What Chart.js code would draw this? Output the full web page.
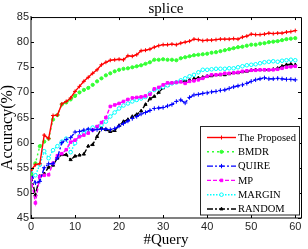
<!DOCTYPE html>
<html>
<head>
<meta charset="utf-8">
<script src="https://cdn.jsdelivr.net/npm/chart.js@4.4.0/dist/chart.umd.min.js"></script>
<style>
  html, body { margin: 0; padding: 0; background: #fff; }
  #wrap { width: 308px; height: 249px; }
</style>
</head>
<body>
<div id="wrap"><canvas id="chart" width="308" height="249"></canvas></div>
<script>
// x positions: number of queries
const queries = [0, 1, 2, 3, 4, 5, 6, 7, 8, 9, 10, 11, 12, 13, 14, 15, 16, 17, 18, 19, 20,
    21, 22, 23, 24, 25, 26, 27, 28, 29, 30, 31, 32, 33, 34, 35, 36, 37, 38, 39, 40,
    41, 42, 43, 44, 45, 46, 47, 48, 49, 50, 51, 52, 53, 54, 55, 56, 57, 58, 59, 60];

// accuracy (%) per method
const proposed = [54.5, 55.6, 55.8, 61.5, 60.8, 65.4, 65.5, 67.7, 68.2, 68.9, 70.2,
    71.2, 72.2, 73.0, 73.8, 74.5, 75.5, 76.0, 76.4, 76.5, 76.6,
    76.5, 77.3, 77.2, 77.5, 78.3, 78.4, 78.6, 79.0, 79.3, 79.5,
    79.5, 79.6, 79.5, 79.8, 80.0, 80.2, 80.6, 80.5, 80.3, 80.4,
    80.4, 80.5, 80.6, 80.6, 80.6, 80.7, 80.6, 81.0, 81.2, 81.6,
    81.5, 81.5, 81.6, 81.8, 81.7, 81.8, 81.8, 82.0, 82.1, 82.3];
const bmdr = [53.7, 55.9, 59.3, 60.2, 60.8, 64.6, 65.5, 67.6, 68.0, 68.6, 69.3,
    70.0, 70.5, 70.9, 71.5, 72.2, 72.8, 73.4, 73.8, 74.2, 74.5,
    74.7, 74.8, 75.0, 75.2, 75.4, 75.7, 76.0, 76.5, 76.5, 76.6,
    76.5, 76.5, 76.4, 76.8, 77.0, 77.2, 77.4, 77.5, 77.6, 77.7,
    77.9, 78.0, 78.2, 78.4, 78.6, 78.8, 79.0, 79.1, 79.3, 79.5,
    79.5, 79.7, 79.8, 80.0, 80.1, 80.2, 80.4, 80.6, 80.7, 80.8];
const quire = [53.9, 52.0, 52.3, 55.0, 55.8, 55.8, 57.0, 60.0, 60.6, 61.0, 62.1,
    62.2, 62.5, 62.7, 62.5, 62.6, 62.7, 62.7, 62.6, 62.8, 63.3,
    63.8, 64.3, 64.8, 65.2, 65.7, 66.0, 66.4, 66.8, 66.9, 67.0,
    67.3, 67.6, 68.2, 68.5, 67.9, 69.0, 69.5, 69.6, 69.8, 69.9,
    70.1, 70.2, 70.4, 70.5, 70.8, 71.1, 71.3, 71.5, 71.8, 72.2,
    72.5, 72.7, 72.9, 72.7, 72.7, 72.8, 72.7, 72.6, 72.6, 72.5];
const mp = [53.0, 48.0, 53.3, 53.5, 53.6, 55.9, 57.4, 57.8, 58.6, 60.1, 60.5,
    61.2, 61.5, 61.9, 62.5, 63.2, 64.0, 65.0, 67.2, 67.5, 67.8,
    68.2, 68.6, 68.9, 69.0, 69.1, 69.3, 69.6, 70.7, 71.0, 71.5,
    71.9, 71.9, 72.0, 72.1, 71.8, 72.2, 72.3, 72.5, 72.8, 73.2,
    73.5, 73.5, 73.6, 73.8, 73.8, 73.9, 74.0, 74.2, 74.3, 74.4,
    74.4, 74.5, 74.5, 74.5, 74.5, 74.6, 74.8, 75.0, 75.1, 75.2];
const margin = [54.0, 53.5, 55.6, 58.3, 56.9, 58.5, 59.3, 60.2, 60.8, 58.1, 59.9,
    61.3, 61.9, 62.5, 63.0, 63.1, 63.5, 64.2, 65.2, 66.0, 66.8,
    67.4, 67.8, 68.2, 68.5, 68.8, 69.1, 69.8, 70.5, 70.8, 71.1,
    71.4, 71.8, 72.0, 72.4, 72.8, 73.2, 73.5, 74.0, 74.5, 74.5,
    74.6, 74.7, 74.7, 74.7, 74.8, 74.8, 75.0, 75.2, 75.4, 75.5,
    75.6, 75.8, 76.0, 76.1, 76.2, 76.1, 76.3, 76.4, 76.5, 76.4];
const random = [53.5, 49.6, 53.3, 53.8, 55.1, 55.5, 56.9, 57.6, 57.6, 56.6, 57.3,
    57.5, 57.7, 59.3, 59.6, 61.2, 62.9, 62.6, 62.2, 62.4, 63.4,
    64.2, 64.6, 65.2, 65.6, 66.3, 67.6, 68.7, 69.2, 70.0, 70.9,
    71.4, 71.9, 72.0, 72.2, 72.3, 72.5, 72.7, 72.9, 73.0, 73.2,
    73.3, 73.5, 73.5, 73.5, 73.7, 73.9, 73.9, 74.1, 74.2, 74.4,
    74.5, 74.5, 74.5, 74.5, 74.6, 74.8, 75.2, 75.5, 75.6, 75.5];

const xTicks = [0, 10, 20, 30, 40, 50, 60];
const yTicks = [45, 50, 55, 60, 65, 70, 75, 80, 85];

const toPoints = (vals) => vals.map((v, i) => ({ x: queries[i], y: v }));

const makeSeries = (label, vals, color, dash, pointStyle, radius, fill) => ({
    label: label,
    data: toPoints(vals),
    borderColor: color,
    backgroundColor: color,
    borderWidth: 1.4,
    borderDash: dash,
    pointStyle: pointStyle,
    pointRadius: radius,
    pointBorderWidth: 1,
    pointBorderColor: color,
    pointBackgroundColor: fill,
    tension: 0
});

const datasets = [
    makeSeries('The Proposed', proposed, '#ff0000', [], 'cross', 2, '#ff0000'),
    makeSeries('BMDR', bmdr, '#33ff33', [2, 3], 'circle', 1.6, '#33ff33'),
    makeSeries('QUIRE', quire, '#0000ff', [6, 2, 2, 2], 'cross', 2.2, '#0000ff'),
    makeSeries('MP', mp, '#ff00ff', [4, 2], 'rect', 1.8, '#ff00ff'),
    makeSeries('MARGIN', margin, '#00ffff', [1.5, 1.5], 'circle', 1.8, '#ffffff'),
    makeSeries('RANDOM', random, '#000000', [6, 2, 2, 2], 'triangle', 1.8, '#000000')
];

// box around the axes + inward tick marks, like the original figure
const frame = {
    id: 'frame',
    afterDraw(chart) {
        const { ctx, chartArea: a, scales: { x, y } } = chart;
        ctx.save();
        ctx.strokeStyle = '#000';
        ctx.lineWidth = 1;
        ctx.beginPath();
        ctx.moveTo(a.left, a.top + 0.5);
        ctx.lineTo(a.right + 0.5, a.top + 0.5);
        ctx.lineTo(a.right + 0.5, a.bottom);
        ctx.stroke();
        ctx.beginPath();
        xTicks.forEach(v => {
            const px = Math.round(x.getPixelForValue(v)) + 0.5;
            ctx.moveTo(px, a.bottom); ctx.lineTo(px, a.bottom - 3);
            ctx.moveTo(px, a.top); ctx.lineTo(px, a.top + 3);
        });
        yTicks.forEach(v => {
            const py = Math.round(y.getPixelForValue(v)) + 0.5;
            ctx.moveTo(a.left, py); ctx.lineTo(a.left + 3, py);
            ctx.moveTo(a.right, py); ctx.lineTo(a.right - 3, py);
        });
        ctx.stroke();
        ctx.restore();
    }
};

// legend box in the lower right corner of the plot
const legendBox = {
    id: 'legendBox',
    afterDraw(chart) {
        const ctx = chart.ctx;
        const x0 = 200.5, y0 = 126.5, w = 99, h = 88.5;
        ctx.save();
        ctx.fillStyle = '#fff';
        ctx.fillRect(x0, y0, w, h);
        ctx.strokeStyle = '#262626';
        ctx.lineWidth = 1;
        ctx.strokeRect(x0, y0, w, h);
        ctx.font = '10.5px "Liberation Serif", serif';
        ctx.textBaseline = 'middle';
        chart.data.datasets.forEach((ds, i) => {
            const yy = 137.5 + i * 14.3;
            ctx.strokeStyle = ds.borderColor;
            ctx.lineWidth = ds.borderWidth;
            ctx.setLineDash(ds.borderDash);
            ctx.beginPath();
            ctx.moveTo(207, yy);
            ctx.lineTo(236, yy);
            ctx.stroke();
            ctx.setLineDash([]);
            ctx.fillStyle = ds.pointBackgroundColor;
            ctx.lineWidth = 1;
            Chart.helpers.drawPoint(ctx, { pointStyle: ds.pointStyle, radius: ds.pointRadius, borderWidth: 1, rotation: 0 }, 221.5, yy);
            ctx.fillStyle = '#000';
            ctx.fillText(ds.label, 238, yy + 0.5);
        });
        ctx.restore();
    }
};

new Chart(document.getElementById('chart').getContext('2d'), {
    type: 'line',
    data: { datasets: datasets },
    options: {
        responsive: false,
        animation: false,
        devicePixelRatio: 1,
        layout: { padding: { top: 0, right: 7, left: 0, bottom: 0 } },
        scales: {
            x: {
                type: 'linear',
                min: 0,
                max: 61.3,
                grid: { display: false, drawTicks: false },
                border: { display: true, color: '#808080', width: 2 },
                ticks: { stepSize: 10, includeBounds: false, padding: 2, maxRotation: 0, color: '#262626', font: { family: 'Liberation Sans', size: 11 } },
                title: { display: true, text: '#Query', color: '#000', padding: 0, font: { family: 'Liberation Serif', size: 15, lineHeight: 1.2 } },
                afterFit: (s) => { s.height = 31; }
            },
            y: {
                min: 45,
                max: 85,
                grid: { display: false, drawTicks: false },
                border: { display: true, color: '#808080', width: 2 },
                ticks: { stepSize: 5, padding: 2, color: '#262626', font: { family: 'Liberation Sans', size: 11 } },
                // trailing spaces push the label down a little, as in the original
                title: { display: true, text: 'Accuracy(%)     ', color: '#000', padding: 0, font: { family: 'Liberation Serif', size: 16, lineHeight: 1.0 } },
                afterFit: (s) => { s.width = 31; }
            }
        },
        plugins: {
            legend: { display: false },
            tooltip: { enabled: false },
            title: {
                display: true,
                fullSize: false,
                text: 'splice',
                color: '#000',
                padding: { top: 1, bottom: 0.6 },
                font: { family: 'Liberation Serif', size: 15, weight: 'normal', lineHeight: 1.03 }
            }
        }
    },
    plugins: [frame, legendBox]
});
</script>
</body>
</html>
